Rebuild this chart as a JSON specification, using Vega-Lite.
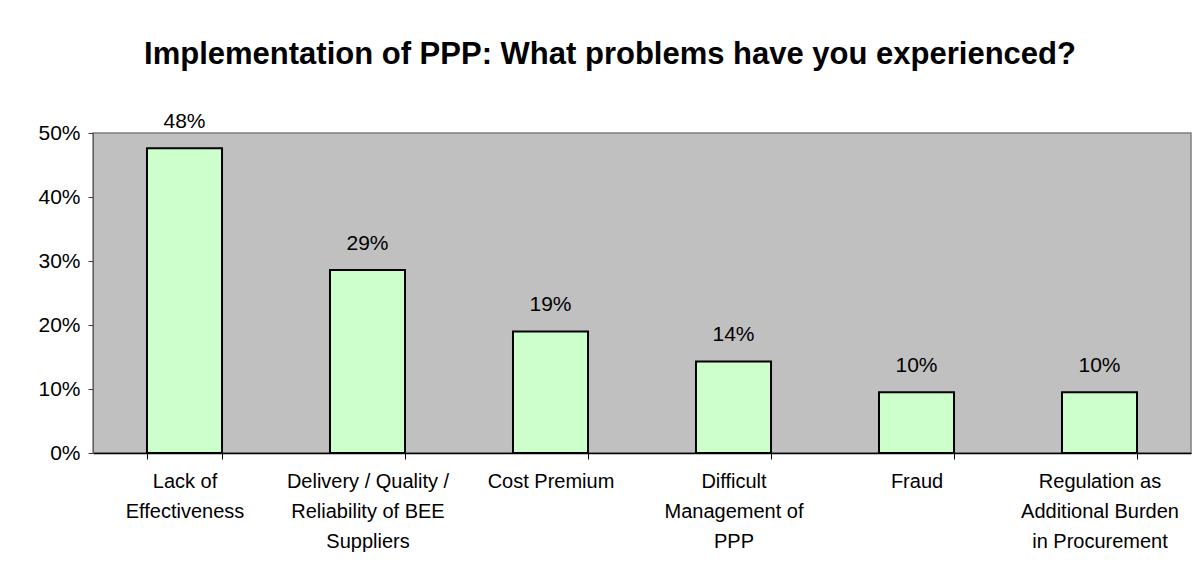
{
  "$schema": "https://vega.github.io/schema/vega-lite/v6.json",
  "width": 1098,
  "height": 320,
  "autosize": {"type": "none"},
  "padding": {"left": 93, "top": 133, "right": 5, "bottom": 124},
  "background": "white",
  "title": {
    "text": "Implementation of PPP: What problems have you experienced?",
    "font": "Liberation Sans",
    "fontSize": 31,
    "fontWeight": "bold",
    "color": "black",
    "anchor": "middle",
    "frame": "group",
    "dx": -32,
    "offset": 40
  },
  "data": {
    "values": [
      {"cat": "Lack of|Effectiveness", "value": 0.476},
      {"cat": "Delivery / Quality /|Reliability of BEE|Suppliers", "value": 0.286},
      {"cat": "Cost Premium", "value": 0.190},
      {"cat": "Difficult|Management of|PPP", "value": 0.143},
      {"cat": "Fraud", "value": 0.095},
      {"cat": "Regulation as|Additional Burden|in Procurement", "value": 0.095}
    ]
  },
  "encoding": {
    "x": {
      "field": "cat",
      "type": "nominal",
      "sort": null,
      "scale": {"paddingInner": 0.59, "paddingOuter": 0.295},
      "axis": {
        "title": null,
        "labelAngle": 0,
        "tickBand": "extent",
        "tickSize": 6,
        "tickColor": "black",
        "domainColor": "black",
        "domainWidth": 1.5,
        "labelExpr": "split(datum.label, '|')",
        "labelBaseline": "top",
        "labelPadding": 12,
        "labelLineHeight": 30,
        "labelFontSize": 20,
        "labelFont": "Liberation Sans",
        "labelColor": "black",
        "labelLimit": 0
      }
    },
    "y": {
      "field": "value",
      "type": "quantitative",
      "scale": {"domain": [0, 0.5], "nice": false},
      "axis": {
        "title": null,
        "format": ".0%",
        "values": [0, 0.1, 0.2, 0.3, 0.4, 0.5],
        "grid": false,
        "tickSize": 5,
        "tickColor": "#404040",
        "domainColor": "#606060",
        "labelPadding": 8,
        "labelFontSize": 21,
        "labelFont": "Liberation Sans",
        "labelColor": "black"
      }
    }
  },
  "layer": [
    {
      "mark": {"type": "bar", "fill": "#CCFFCC", "stroke": "black", "strokeWidth": 2}
    },
    {
      "mark": {"type": "text", "baseline": "alphabetic", "dy": -20, "fontSize": 21, "font": "Liberation Sans", "color": "black"},
      "encoding": {
        "text": {"field": "value", "type": "quantitative", "format": ".0%"}
      }
    }
  ],
  "config": {
    "view": {"fill": "#C0C0C0", "stroke": "#808080", "strokeWidth": 1.5}
  }
}
